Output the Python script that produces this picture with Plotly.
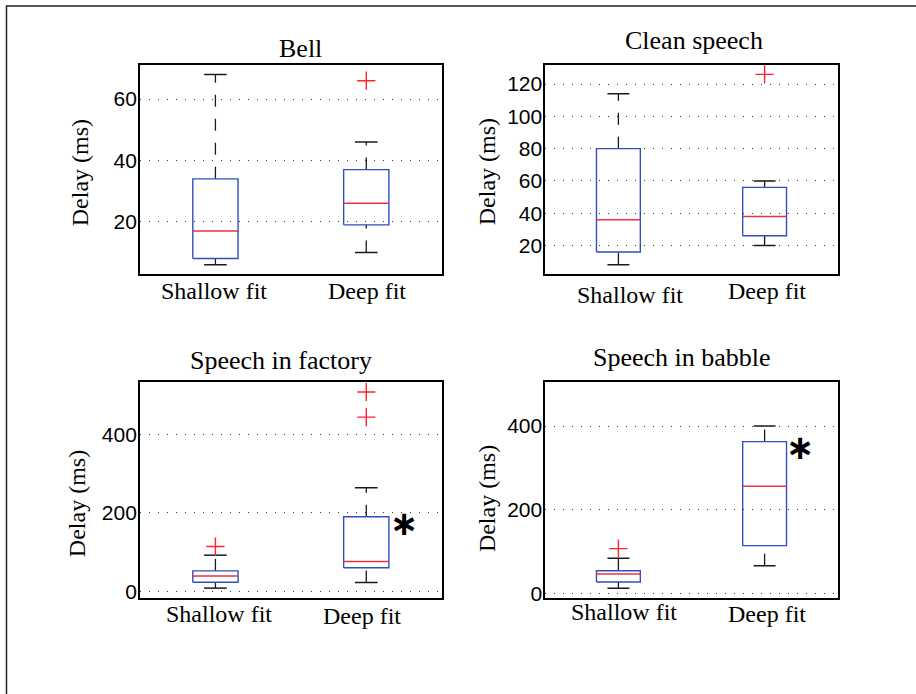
import plotly.graph_objects as go

# ---- data -------------------------------------------------------------
panel_titles = ["Bell", "Clean speech", "Speech in factory", "Speech in babble"]
group_labels = ["Shallow fit", "Deep fit"]
y_label = "Delay (ms)"

# five-number summaries per panel: [Shallow fit, Deep fit]
lower_whisker = [[6, 10], [8, 20], [8, 22], [12, 66]]
q1 = [[8, 19], [16, 26], [23, 60], [27, 114]]
median = [[17, 26], [36, 38], [39, 76], [46, 256]]
q3 = [[34, 37], [80, 56], [52, 190], [54, 363]]
upper_whisker = [[68, 46], [114, 60], [92, 264], [84, 400]]
outliers = [[[], [66]], [[], [126]], [[114], [444, 508]], [[107], []]]

y_ranges = [[2.9, 71.1], [2.2, 131.8], [-17, 534], [-11, 506]]
y_ticks = [[20, 40, 60], [20, 40, 60, 80, 100, 120], [0, 200, 400], [0, 200, 400]]

# significance markers: (panel index, x position, y value)
significance = [(2, 2.255, 174), (3, 2.245, 351)]

# ---- styling ----------------------------------------------------------
W, H = 916, 694
SERIF = "Liberation Serif, Times New Roman, serif"
SANS = "Liberation Sans, Arial, sans-serif"
BOX_BLUE = "#2f4fbf"
MED_RED = "#ee3040"
OUT_RED = "#ff2030"
WHISK = "#1a1a1a"
BOX_HALF = 0.15
CAP_HALF = 0.075

# plot area of each panel in pixels: (left, right, top, bottom)
areas = [(140, 441.7, 65.7, 277), (545.3, 837.7, 65.7, 277),
         (140, 441.7, 385.7, 604), (545.3, 837.7, 385.7, 604)]
# title centres (px)
title_pos = [(300.8, 49.2), (693.8, 40.8), (280.7, 363.7), (682.3, 361.3)]
# y-label centres (px)
ylabel_pos = [(80, 175), (487, 174), (76.5, 508.8), (486.5, 503.7)]
# category label centres (px) per panel [shallow, deep]
xlabel_pos = [[(214.2, 294.2), (367, 294.2)],
              [(630.2, 298), (767.3, 294.2)],
              [(218.7, 620.2), (361.7, 622)],
              [(624.3, 618.5), (767.3, 620.2)]]


def px(x):
    return x / W


def py(y):
    return 1 - y / H


fig = go.Figure()
annotations = []

for p in range(4):
    xa = "x" if p == 0 else f"x{p + 1}"
    ya = "y" if p == 0 else f"y{p + 1}"
    for g in range(2):
        xc = g + 1
        # whiskers (drawn from lower end upward)
        for y0, y1 in ((lower_whisker[p][g], q1[p][g]), (q3[p][g], upper_whisker[p][g])):
            fig.add_trace(go.Scatter(x=[xc, xc], y=[y0, y1], mode="lines",
                                     line=dict(color=WHISK, width=1.3, dash="12px,12px"),
                                     xaxis=xa, yaxis=ya, hoverinfo="skip", showlegend=False))
        # caps
        for yv in (lower_whisker[p][g], upper_whisker[p][g]):
            fig.add_trace(go.Scatter(x=[xc - CAP_HALF, xc + CAP_HALF], y=[yv, yv], mode="lines",
                                     line=dict(color=WHISK, width=1.5),
                                     xaxis=xa, yaxis=ya, hoverinfo="skip", showlegend=False))
        # box
        fig.add_trace(go.Scatter(
            x=[xc - BOX_HALF, xc + BOX_HALF, xc + BOX_HALF, xc - BOX_HALF, xc - BOX_HALF],
            y=[q1[p][g], q1[p][g], q3[p][g], q3[p][g], q1[p][g]],
            mode="lines", line=dict(color=BOX_BLUE, width=1.4),
            xaxis=xa, yaxis=ya, hoverinfo="skip", showlegend=False))
        # median
        fig.add_trace(go.Scatter(x=[xc - BOX_HALF, xc + BOX_HALF], y=[median[p][g]] * 2,
                                 mode="lines", line=dict(color=MED_RED, width=1.5),
                                 xaxis=xa, yaxis=ya, hoverinfo="skip", showlegend=False))
        # outliers
        if outliers[p][g]:
            fig.add_trace(go.Scatter(x=[xc] * len(outliers[p][g]), y=outliers[p][g],
                                     mode="markers",
                                     marker=dict(symbol="cross-thin", size=13,
                                                 line=dict(color=OUT_RED, width=1.4)),
                                     xaxis=xa, yaxis=ya, hoverinfo="skip", showlegend=False))

    l, r, t, b = areas[p]
    axis_common = dict(showline=True, mirror=True, linecolor="black", linewidth=1.8,
                       ticks="", zeroline=False)
    fig.update_layout(**{
        ("xaxis" if p == 0 else f"xaxis{p + 1}"): dict(
            domain=[px(l), px(r)], range=[0.5, 2.5], showticklabels=False,
            showgrid=False, anchor=ya, **axis_common),
        ("yaxis" if p == 0 else f"yaxis{p + 1}"): dict(
            domain=[py(b), py(t)], range=y_ranges[p], tickvals=y_ticks[p],
            showgrid=True, gridcolor="#333333", gridwidth=1, griddash="1px,8px",
            tickfont=dict(family=SANS, size=21, color="black"),
            ticklabelstandoff=-3, anchor=xa, **axis_common),
    })

    annotations.append(dict(text=panel_titles[p], x=px(title_pos[p][0]), y=py(title_pos[p][1]),
                            xref="paper", yref="paper", xanchor="center", yanchor="middle",
                            showarrow=False, font=dict(family=SERIF, size=26, color="black")))
    annotations.append(dict(text=y_label, x=px(ylabel_pos[p][0]), y=py(ylabel_pos[p][1]),
                            xref="paper", yref="paper", xanchor="center", yanchor="middle",
                            textangle=-90, showarrow=False,
                            font=dict(family=SERIF, size=24, color="black")))
    for g in range(2):
        cx, cy = xlabel_pos[p][g]
        annotations.append(dict(text=group_labels[g], x=px(cx), y=py(cy),
                                xref="paper", yref="paper", xanchor="center", yanchor="middle",
                                showarrow=False, font=dict(family=SERIF, size=24, color="black")))

for p, xv, yv in significance:
    annotations.append(dict(text="<b>∗</b>", x=xv, y=yv,
                            xref=f"x{p + 1}", yref=f"y{p + 1}",
                            xanchor="center", yanchor="middle", showarrow=False,
                            font=dict(family="DejaVu Sans", size=34, color="black")))

fig.update_layout(
    width=W, height=H, margin=dict(l=0, r=0, t=0, b=0),
    paper_bgcolor="white", plot_bgcolor="white",
    annotations=annotations,
    shapes=[dict(type="rect", xref="paper", yref="paper",
                 x0=px(6.5), x1=1.05, y0=-0.05, y1=py(6),
                 line=dict(color="#222222", width=1.5))],
)

fig.write_html("out.html")
